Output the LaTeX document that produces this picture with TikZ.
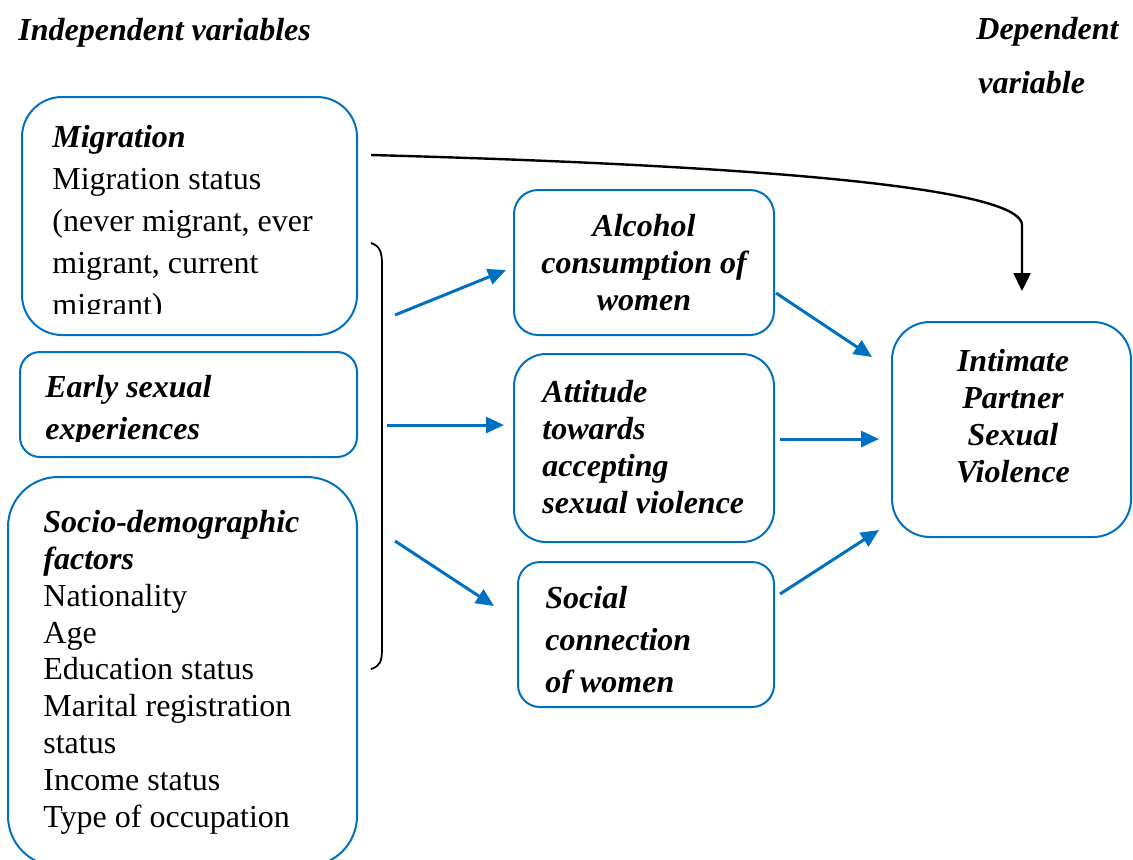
\documentclass[tikz,border=0pt]{standalone}
\usepackage{fontspec}
\setmainfont{Liberation Serif}
\usetikzlibrary{arrows.meta,fit}
\definecolor{lineblue}{HTML}{0070C0}

\begin{document}
\begin{tikzpicture}[x=0.5pt,y=-0.5pt,
	box/.style={draw=lineblue,line width=1pt,inner sep=0pt},
	arr/.style={-{Triangle[length=9pt,width=8pt]},color=lineblue,line width=1.5pt},
	wide/.style={inner sep=0pt,align=left,font={\fontsize{16}{21}\selectfont}},
	tight/.style={inner sep=0pt,align=left,font={\fontsize{16}{18.4}\selectfont}},
	bi/.style={font={\fontsize{16}{18.4}\selectfont\bfseries\itshape}}]
	\clip (0,0) rectangle (1133,859);
	% headings
	\node[bi,inner sep=0pt,anchor=base west] (indep) at (18,40) {Independent variables};
	\node[bi,inner sep=0pt,anchor=base west] (dep1) at (976,39) {Dependent};
	\node[bi,inner sep=0pt,anchor=base west] (dep2) at (978,93) {variable};
	% boxes
	\node[box,rounded corners=20pt,fit={(22,97) (357,335)}] (mig) {};
	\node[box,rounded corners=10pt,fit={(20,352) (357,457)}] (early) {};
	\node[box,rounded corners=25pt,fit={(8,477) (357,866)}] (socio) {};
	\node[box,rounded corners=12pt,fit={(514,190) (774,335)}] (alc) {};
	\node[box,rounded corners=16pt,fit={(514,354) (774,542)}] (att) {};
	\node[box,rounded corners=11pt,fit={(518,562) (774,707)}] (soc) {};
	\node[box,rounded corners=19pt,fit={(892,322) (1131,537)}] (ipsv) {};
	% texts (base = last line)
	\begin{scope}
		\clip (22,97) rectangle (357,313);
		\node[wide,anchor=base west] (migtxt) at (52,315) {\textbf{\textit{Migration}}\\Migration status\\(never migrant, ever\\migrant, current\\migrant)};
	\end{scope}
	\begin{scope}
		\clip (20,352) rectangle (357,441);
		\node[wide,anchor=base west] (earlytxt) at (45,439) {\textbf{\textit{Early sexual}}\\\textbf{\textit{experiences}}};
	\end{scope}
	\node[tight,anchor=base west] (sociotxt) at (43,827) {\textbf{\textit{Socio-demographic}}\\\textbf{\textit{factors}}\\Nationality\\Age\\Education status\\Marital registration\\status\\Income status\\Type of occupation};
	\node[tight,align=center,anchor=base,font={\fontsize{16}{18.4}\selectfont\bfseries\itshape}] (alctxt) at (644,310) {Alcohol\\consumption of\\women};
	\node[tight,anchor=base west,font={\fontsize{16}{18.4}\selectfont\bfseries\itshape}] (atttxt) at (542,513) {Attitude\\towards\\accepting\\sexual violence};
	\begin{scope}
		\clip (518,562) rectangle (774,692);
		\node[wide,anchor=base west,font={\fontsize{16}{21}\selectfont\bfseries\itshape}] (soctxt) at (545,692) {Social\\connection\\of women};
	\end{scope}
	\node[tight,align=center,anchor=base,font={\fontsize{16}{18.4}\selectfont\bfseries\itshape}] (ipsvtxt) at (1013,482) {Intimate\\Partner\\Sexual\\Violence};
	% bracket
	\draw[line width=0.9pt] (371,243) .. controls (380,246) and (382,252) .. (382,265) -- (382,648) .. controls (382,662) and (380,666) .. (371,669);
	\coordinate (b1) at (395,315);
	\coordinate (b2) at (387,425);
	\coordinate (b3) at (395,541);
	% arrows
	\draw[arr] (b1) -- ([shift={(-7,7.5)}]alc.west);
	\draw[arr] (b2) -- ([shift={(-9,-23)}]att.west);
	\draw[arr] (b3) -- ([shift={(-23,-28.5)}]soc.west);
	\draw[arr] ([shift={(1,30.5)}]alc.east) -- ([shift={(-19,-72.5)}]ipsv.west);
	\draw[arr] ([shift={(5,-9)}]att.east) -- ([shift={(-12,9.5)}]ipsv.west);
	\draw[arr] ([shift={(5,-40.5)}]soc.east) -- ([shift={(-12,100.5)}]ipsv.west);
	\draw[-{Triangle[length=9pt,width=8.5pt]},line width=1.2pt] ([shift={(13,-61)}]mig.east) .. controls (850,168) and (1022,195) .. (1022,225) -- ([shift={(10.5,-30)}]ipsv.north);
\end{tikzpicture}
\end{document}
